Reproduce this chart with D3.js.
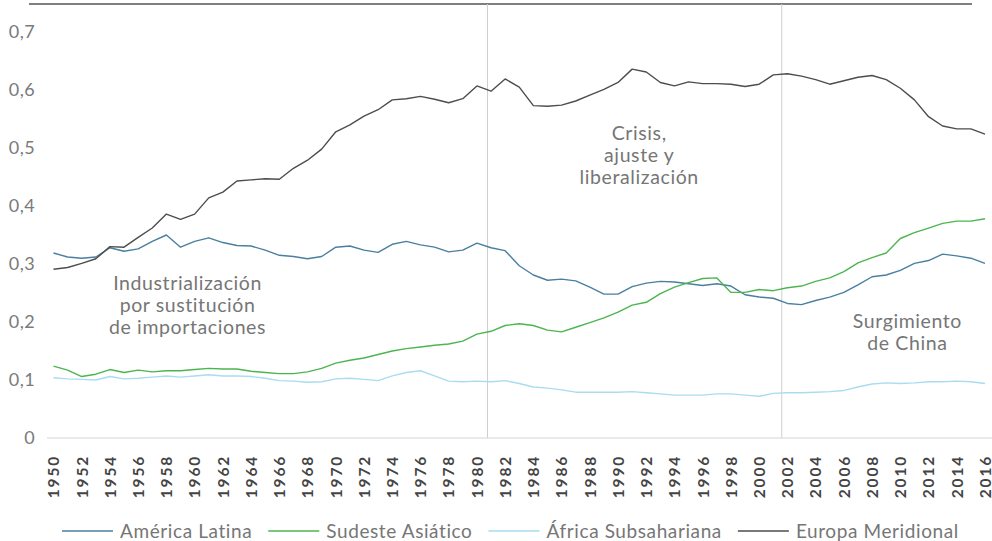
<!DOCTYPE html>
<html>
<head>
<meta charset="utf-8">
<script src="https://cdn.jsdelivr.net/npm/d3@7"></script>
<style>
  body { margin: 0; background: #fff; }
  svg { display: block; font-family: Lato, "Open Sans", sans-serif; }
</style>
</head>
<body>
<svg id="chart" width="992" height="541"></svg>
<script>
// years 1950..2016
const years = d3.range(1950, 2017);

const americaLatina = [
  0.319, 0.312, 0.310, 0.312, 0.328, 0.322, 0.326, 0.339, 0.350, 0.329,
  0.339, 0.345, 0.337, 0.332, 0.331, 0.324, 0.315, 0.313, 0.309, 0.313,
  0.329, 0.331, 0.324, 0.320, 0.334, 0.339, 0.333, 0.329, 0.321, 0.324,
  0.336, 0.328, 0.323, 0.297, 0.281, 0.272, 0.274, 0.271, 0.260, 0.248,
  0.248, 0.261, 0.267, 0.270, 0.269, 0.266, 0.263, 0.266, 0.262, 0.247,
  0.243, 0.241, 0.232, 0.230, 0.237, 0.243, 0.251, 0.264, 0.278, 0.281,
  0.289, 0.301, 0.306, 0.317, 0.314, 0.310, 0.301
];
const sudesteAsiatico = [
  0.124, 0.117, 0.106, 0.110, 0.118, 0.113, 0.117, 0.114, 0.116, 0.116,
  0.118, 0.120, 0.119, 0.119, 0.115, 0.113, 0.111, 0.111, 0.114, 0.120,
  0.129, 0.134, 0.138, 0.144, 0.150, 0.154, 0.157, 0.160, 0.162, 0.167,
  0.179, 0.184, 0.194, 0.197, 0.194, 0.186, 0.183, 0.191, 0.199, 0.207,
  0.217, 0.229, 0.234, 0.249, 0.260, 0.268, 0.275, 0.276, 0.251, 0.251,
  0.256, 0.254, 0.259, 0.262, 0.270, 0.276, 0.287, 0.302, 0.311, 0.319,
  0.344, 0.354, 0.362, 0.370, 0.374, 0.374, 0.378
];
const africaSubsahariana = [
  0.104, 0.102, 0.101, 0.100, 0.106, 0.102, 0.103, 0.105, 0.107, 0.105,
  0.107, 0.109, 0.107, 0.107, 0.106, 0.103, 0.099, 0.098, 0.096, 0.097,
  0.102, 0.103, 0.101, 0.099, 0.107, 0.113, 0.116, 0.107, 0.098, 0.097,
  0.098, 0.097, 0.099, 0.094, 0.088, 0.086, 0.083, 0.079, 0.079, 0.079,
  0.079, 0.080, 0.078, 0.076, 0.074, 0.074, 0.074, 0.076, 0.076, 0.074,
  0.072, 0.077, 0.078, 0.078, 0.079, 0.080, 0.082, 0.088, 0.093, 0.095,
  0.094, 0.095, 0.097, 0.097, 0.098, 0.097, 0.094
];
const europaMeridional = [
  0.291, 0.294, 0.301, 0.309, 0.330, 0.329, 0.346, 0.362, 0.386, 0.377,
  0.386, 0.414, 0.424, 0.443, 0.445, 0.447, 0.446, 0.465, 0.479, 0.498,
  0.528, 0.540, 0.555, 0.566, 0.583, 0.585, 0.589, 0.584, 0.578, 0.585,
  0.607, 0.598, 0.619, 0.605, 0.573, 0.572, 0.574, 0.581, 0.591, 0.601,
  0.613, 0.636, 0.631, 0.613, 0.607, 0.614, 0.611, 0.611, 0.610, 0.606,
  0.610, 0.626, 0.628, 0.624, 0.618, 0.610, 0.616, 0.622, 0.625, 0.618,
  0.603, 0.583, 0.554, 0.538, 0.533, 0.533, 0.524
];

const seriesNames = ["América Latina", "Sudeste Asiático", "África Subsahariana", "Europa Meridional"];
const seriesValues = [americaLatina, sudesteAsiatico, africaSubsahariana, europaMeridional];
const seriesColors = ["#4a7f9f", "#4cb54f", "#a9dcf1", "#4d4d4d"];

const yTicks = [0, 0.1, 0.2, 0.3, 0.4, 0.5, 0.6, 0.7];
const xTickYears = d3.range(1950, 2017, 2);

// period breaks (vertical guides) and period labels
const periodBreaks = [1980.75, 2001.6];
const periodLabels = [
  { year: 1959.5, value: 0.255, lines: ["Industrialización", "por sustitución", "de importaciones"] },
  { year: 1991.5, value: 0.513, lines: ["Crisis,", "ajuste y", "liberalización"] },
  { year: 2010.5, value: 0.190, lines: ["Surgimiento", "de China"] }
];

const svg = d3.select("#chart");

const x = d3.scaleLinear().domain([1950, 2016]).range([53.5, 985]);
const y = d3.scaleLinear().domain([0, 0.7]).range([438, 32]);

// top rule
svg.append("line")
  .attr("x1", 29).attr("x2", 972)
  .attr("y1", 4).attr("y2", 4)
  .attr("stroke", "#555").attr("stroke-width", 1.5);

// y axis labels
const yAxis = d3.axisLeft(y)
  .tickValues(yTicks)
  .tickSize(0)
  .tickPadding(0)
  .tickFormat(d => d === 0 ? "0" : d3.format(".1f")(d).replace(".", ","));
svg.append("g")
  .attr("transform", "translate(35,0)")
  .call(yAxis)
  .call(g => g.select(".domain").remove())
  .selectAll("text")
  .attr("font-size", 18)
  .attr("letter-spacing", 0.4)
  .attr("font-family", "Lato, sans-serif")
  .attr("fill", "#7a7a7a");

// x axis
const xAxis = d3.axisBottom(x)
  .tickValues(xTickYears)
  .tickSize(0)
  .tickFormat(d3.format("d"));
const xg = svg.append("g")
  .attr("transform", "translate(0,438)")
  .call(xAxis);
xg.select(".domain").remove();
xg.selectAll("text")
  .attr("transform", "rotate(-90)")
  .attr("text-anchor", "end")
  .attr("x", -17)
  .attr("y", 0)
  .attr("dy", "0.34em")
  .attr("font-size", 15.5)
  .attr("font-weight", "bold")
  .attr("letter-spacing", 1.8)
  .attr("font-family", "Lato, sans-serif")
  .attr("fill", "#444");

// baseline
svg.append("line")
  .attr("x1", 47).attr("x2", 992)
  .attr("y1", y(0)).attr("y2", y(0))
  .attr("stroke", "#d6d6d6").attr("stroke-width", 1.2);

// vertical guides
svg.selectAll(".guide")
  .data(periodBreaks)
  .enter()
  .append("line")
  .attr("class", "guide")
  .attr("x1", d => x(d)).attr("x2", d => x(d))
  .attr("y1", 4).attr("y2", y(0))
  .attr("stroke", "#cfcfcf").attr("stroke-width", 1);

// lines
const line = d3.line()
  .x((d, i) => x(years[i]))
  .y(d => y(d));

svg.append("g")
  .selectAll("path")
  .data(seriesValues)
  .enter()
  .append("path")
  .attr("d", d => line(d))
  .attr("fill", "none")
  .attr("stroke", (d, i) => seriesColors[i])
  .attr("stroke-width", 1.4)
  .attr("stroke-linejoin", "round");

// period labels
periodLabels.forEach(p => {
  const t = svg.append("text")
    .attr("x", x(p.year))
    .attr("y", y(p.value))
    .attr("text-anchor", "middle")
    .attr("font-size", 19.5)
    .attr("letter-spacing", 0.6)
    .attr("fill", "#767676");
  p.lines.forEach((l, i) => {
    t.append("tspan")
      .attr("x", x(p.year))
      .attr("dy", i === 0 ? 0 : 21.8)
      .text(l);
  });
});

// legend
const legend = svg.append("g").attr("transform", "translate(62,531)");
let lx = 0;
seriesNames.forEach((name, i) => {
  legend.append("line")
    .attr("x1", lx).attr("x2", lx + 51)
    .attr("y1", 0).attr("y2", 0)
    .attr("stroke", seriesColors[i]).attr("stroke-width", 1.6);
  const txt = legend.append("text")
    .attr("x", lx + 58)
    .attr("y", 0)
    .attr("dy", "0.35em")
    .attr("font-size", 19)
    .attr("letter-spacing", 0.6)
    .attr("fill", "#767676")
    .text(name);
  lx += 58 + txt.node().getComputedTextLength() + 16;
});
</script>
</body>
</html>
